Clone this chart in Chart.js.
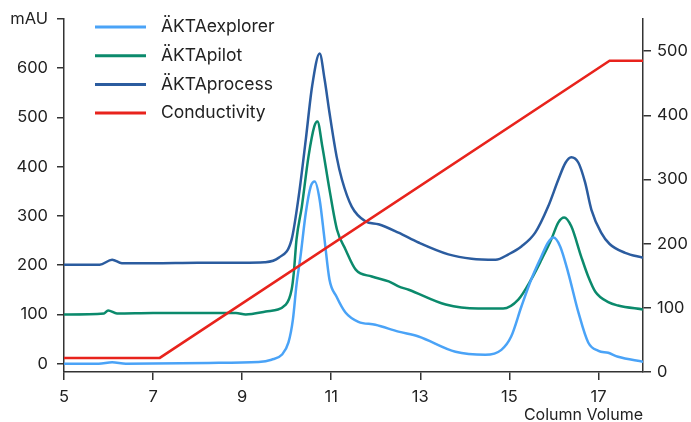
<!DOCTYPE html>
<html lang="en">
<head>
    <meta charset="UTF-8">
    <title>Chromatogram</title>
    <style>
        html, body { margin: 0; padding: 0; background: #fff; }
        #wrap { width: 691px; height: 422px; }
    </style>
</head>
<body>
    <div id="wrap"><canvas id="myChart" width="691" height="422"></canvas></div>
    <script src="https://cdn.jsdelivr.net/npm/chart.js"></script>
    <script>
        // [column volume, value]
        let explorer = [[5,0],[5.78,0],[6.08,3],[6.39,0],[8.25,1.5],[9.37,3.5],[9.66,8],[9.89,18],[10.04,43],[10.14,90],[10.22,160],[10.31,218],[10.43,307],[10.54,360],[10.63,370],[10.74,333],[10.85,252],[10.96,171],[11.12,136],[11.32,104],[11.61,85],[11.99,79],[12.51,65],[12.96,55],[13.79,24],[14.46,18],[14.82,28],[15.04,55],[15.27,116],[15.49,171],[15.72,218],[15.87,246],[15.99,256],[16.14,238],[16.32,185],[16.55,104],[16.77,43],[17.0,26],[17.22,22],[17.44,14],[18,4]]
        let pilot = [[5,100],[5.9,102],[5.99,108],[6.19,102],[7,103],[8,103],[8.86,103],[9.08,100],[9.53,106],[9.98,120],[10.11,150],[10.16,185],[10.22,252],[10.34,319],[10.49,421],[10.62,482],[10.69,492],[10.8,441],[10.96,354],[11.13,272],[11.32,232],[11.55,191],[11.91,177],[12.29,167],[12.51,157],[12.74,150],[13.57,120],[14.3,112],[14.86,112],[15.2,130],[15.49,171],[15.72,211],[15.94,252],[16.1,287],[16.23,297],[16.39,279],[16.61,218],[16.77,177],[16.93,146],[17.22,125],[17.44,118],[18,110]]
        let process = [[5,201],[5.8,201],[6.08,211],[6.3,204],[7,204],[8,205],[9,205],[9.5,206],[9.82,215],[10.11,252],[10.27,340],[10.43,456],[10.57,563],[10.74,630],[10.85,578],[10.96,510],[11.12,421],[11.24,374],[11.46,319],[11.77,289],[12.06,283],[12.51,266],[12.96,246],[13.63,222],[14.15,213],[14.69,211],[14.98,222],[15.27,238],[15.58,266],[15.87,319],[16.1,374],[16.26,408],[16.39,419],[16.55,408],[16.7,368],[16.84,313],[17.06,266],[17.25,243],[17.6,225],[18,215]]
        let conductivity = [[5,22],[7.15,22],[17.25,485],[18,485]]

        let labels = ["ÄKTAexplorer", "ÄKTApilot", "ÄKTAprocess", "Conductivity"]
        let colors = ["#4aa3f7", "#0b8a6c", "#2b5c9f", "#e8231c"]
        let xTicks = [5, 7, 9, 11, 13, 15, 17]
        let leftTicks = [0, 100, 200, 300, 400, 500, 600, 700]
        let rightTicks = [0, 100, 200, 300, 400, 500]

        const font = "Inter"
        const pts = arr => arr.map(p => ({x: p[0], y: p[1]}))

        const legendPlugin = {
            id: 'sideLegend',
            afterDraw(chart) {
                const ctx = chart.ctx
                ctx.save()
                ctx.font = "17.5px " + font
                ctx.textBaseline = "middle"
                chart.data.datasets.forEach((ds, i) => {
                    let y = 27 + i * 28.7
                    ctx.strokeStyle = ds.borderColor
                    ctx.lineWidth = 3
                    ctx.beginPath()
                    ctx.moveTo(95, y)
                    ctx.lineTo(146, y)
                    ctx.stroke()
                    ctx.fillStyle = "#222"
                    ctx.fillText(ds.label, 161, y)
                })
                ctx.restore()
            }
        }

        const series = [explorer, pilot, process, conductivity]
        const data = {
            datasets: series.map((s, i) => ({
                label: labels[i],
                data: pts(s),
                borderColor: colors[i],
                backgroundColor: colors[i],
                borderWidth: 2.5,
                pointRadius: 0,
                tension: i == 3 ? 0 : 0.4,
                cubicInterpolationMode: i == 3 ? 'default' : 'monotone',
                yAxisID: i == 3 ? 'y2' : 'y',
                order: i == 3 ? -1 : 0
            }))
        }

        const axisColor = "#333"
        const tickFont = { family: font, size: 16.5 }
        const config = {
            type: 'line',
            data: data,
            plugins: [legendPlugin],
            options: {
                responsive: false,
                animation: false,
                layout: { padding: { top: 19, left: 0, right: 0, bottom: 0 } },
                plugins: { legend: { display: false }, tooltip: { enabled: false } },
                scales: {
                    x: {
                        type: 'linear', min: 5, max: 18,
                        afterBuildTicks: ax => { ax.ticks = xTicks.map(v => ({value: v})) },
                        afterFit: ax => { ax.height = 50 },
                        border: { display: true, color: axisColor, width: 1.5 },
                        grid: { drawOnChartArea: false, drawTicks: true, tickLength: 8, color: axisColor, lineWidth: 1.5 },
                        ticks: { color: "#222", font: tickFont, padding: 7, maxRotation: 0 },
                        title: { display: true, text: "Column Volume", align: 'end', color: "#222", font: { family: font, size: 16 }, padding: { top: 0, bottom: -3 } }
                    },
                    y: {
                        position: 'left', min: -17, max: 700,
                        afterBuildTicks: ax => { ax.ticks = leftTicks.map(v => ({value: v})) },
                        afterFit: ax => { ax.width = 64 },
                        border: { display: true, color: axisColor, width: 1.5 },
                        grid: { drawOnChartArea: false, drawTicks: true, tickLength: 7, color: axisColor, lineWidth: 1.5 },
                        ticks: { color: "#222", font: tickFont, padding: 9,
                                 callback: v => v == 700 ? "mAU" : v }
                    },
                    y2: {
                        position: 'right', min: 0, max: 550,
                        afterBuildTicks: ax => { ax.ticks = rightTicks.map(v => ({value: v})) },
                        afterFit: ax => { ax.width = 48 },
                        border: { display: true, color: axisColor, width: 1.5 },
                        grid: { drawOnChartArea: false, drawTicks: true, tickLength: 8, color: axisColor, lineWidth: 1.5 },
                        ticks: { color: "#222", font: tickFont, padding: 6 }
                    }
                }
            }
        }
        const chart = new Chart(document.querySelector("canvas"), config)
    </script>
</body>
</html>
